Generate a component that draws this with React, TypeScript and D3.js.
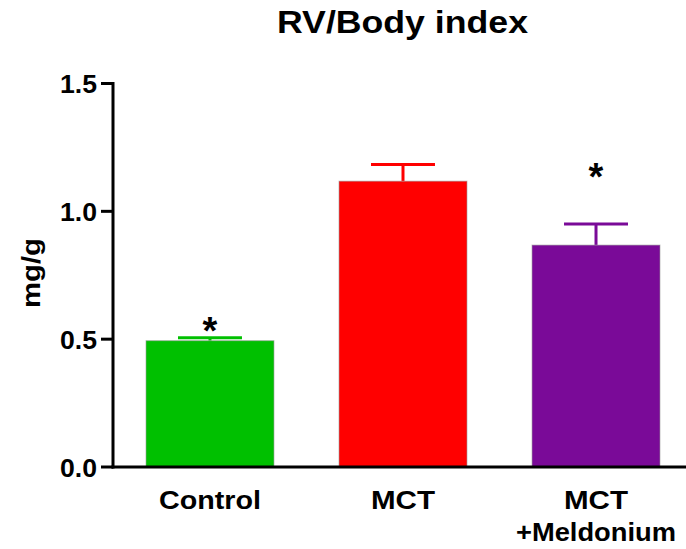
import React from "react";
import * as d3 from "d3";

const categories = ["Control", "MCT", "MCT\n+Meldonium"];
const means = [0.494, 1.118, 0.868];
const sems = [0.012, 0.065, 0.082];
const colors = ["#00C000", "#FF0000", "#7A0A98"];
const starLevels = [0.563, null, 1.165];
const yTicks = [0, 0.5, 1.0, 1.5];

const W = 686;
const H = 549;
const axisX = 113;
const axisY = 467;
const topY = 83.5;

const font = "'Liberation Sans', Arial, sans-serif";
const lineWidths: Record<string, number> = { Control: 102, MCT: 64, "+Meldonium": 160 };

export default function App() {
  const y = d3.scaleLinear().domain([0, 1.5]).range([axisY, topY]);
  const x = d3
    .scaleBand<string>()
    .domain(categories)
    .range([axisX, 693])
    .paddingInner(0.337)
    .paddingOuter(0.171);
  const bw = x.bandwidth();
  const starSize = 38;
  return (
    <svg width={W} height={H} style={{ position: "absolute", left: 0, top: 0 }}>
      <rect width={W} height={H} fill="#fff" />
      <text x={402.5} y={33} textAnchor="middle" fontFamily={font} fontWeight="bold" fontSize={31} textLength={251} lengthAdjust="spacingAndGlyphs">
        RV/Body index
      </text>
      <text
        transform={`translate(40,273) rotate(-90)`}
        textAnchor="middle"
        fontFamily={font}
        fontWeight="bold"
        fontSize={26}
        textLength={70}
        lengthAdjust="spacingAndGlyphs"
      >
        mg/g
      </text>
      {categories.map((c, i) => {
        const x0 = x(c)!;
        const cx = x0 + bw / 2;
        const capHalf = bw / 4;
        return (
          <g key={c}>
            <line x1={cx} x2={cx} y1={y(means[i])} y2={y(means[i] + sems[i])} stroke={colors[i]} strokeWidth={3} />
            <line x1={cx - capHalf} x2={cx + capHalf} y1={y(means[i] + sems[i])} y2={y(means[i] + sems[i])} stroke={colors[i]} strokeWidth={3} />
            <rect x={x0} y={y(means[i])} width={bw} height={axisY - y(means[i])} fill={colors[i]} stroke="#999" strokeOpacity={0.6} strokeWidth={1} />
            {starLevels[i] !== null && (
              <text x={cx} y={y(starLevels[i] as number) + starSize * 0.55} textAnchor="middle" fontFamily={font} fontWeight="bold" fontSize={starSize}>
                *
              </text>
            )}
            {c.split("\n").map((line, j) => (
              <text
                key={j}
                x={cx}
                y={509 + j * 32}
                textAnchor="middle"
                fontFamily={font}
                fontWeight="bold"
                fontSize={26}
                textLength={lineWidths[line]}
                lengthAdjust="spacingAndGlyphs"
              >
                {line}
              </text>
            ))}
          </g>
        );
      })}
      <line x1={axisX} x2={axisX} y1={topY - 1.5} y2={axisY + 1.5} stroke="#000" strokeWidth={3} />
      <line x1={axisX - 1.5} x2={W} y1={axisY} y2={axisY} stroke="#000" strokeWidth={3} />
      {yTicks.map((t) => (
        <g key={t}>
          <line x1={axisX - 12} x2={axisX} y1={y(t)} y2={y(t)} stroke="#000" strokeWidth={3} />
          <text x={97} y={y(t) + 9.5} textAnchor="end" fontFamily={font} fontWeight="bold" fontSize={25} textLength={37} lengthAdjust="spacingAndGlyphs">
            {t.toFixed(1)}
          </text>
        </g>
      ))}
    </svg>
  );
}
